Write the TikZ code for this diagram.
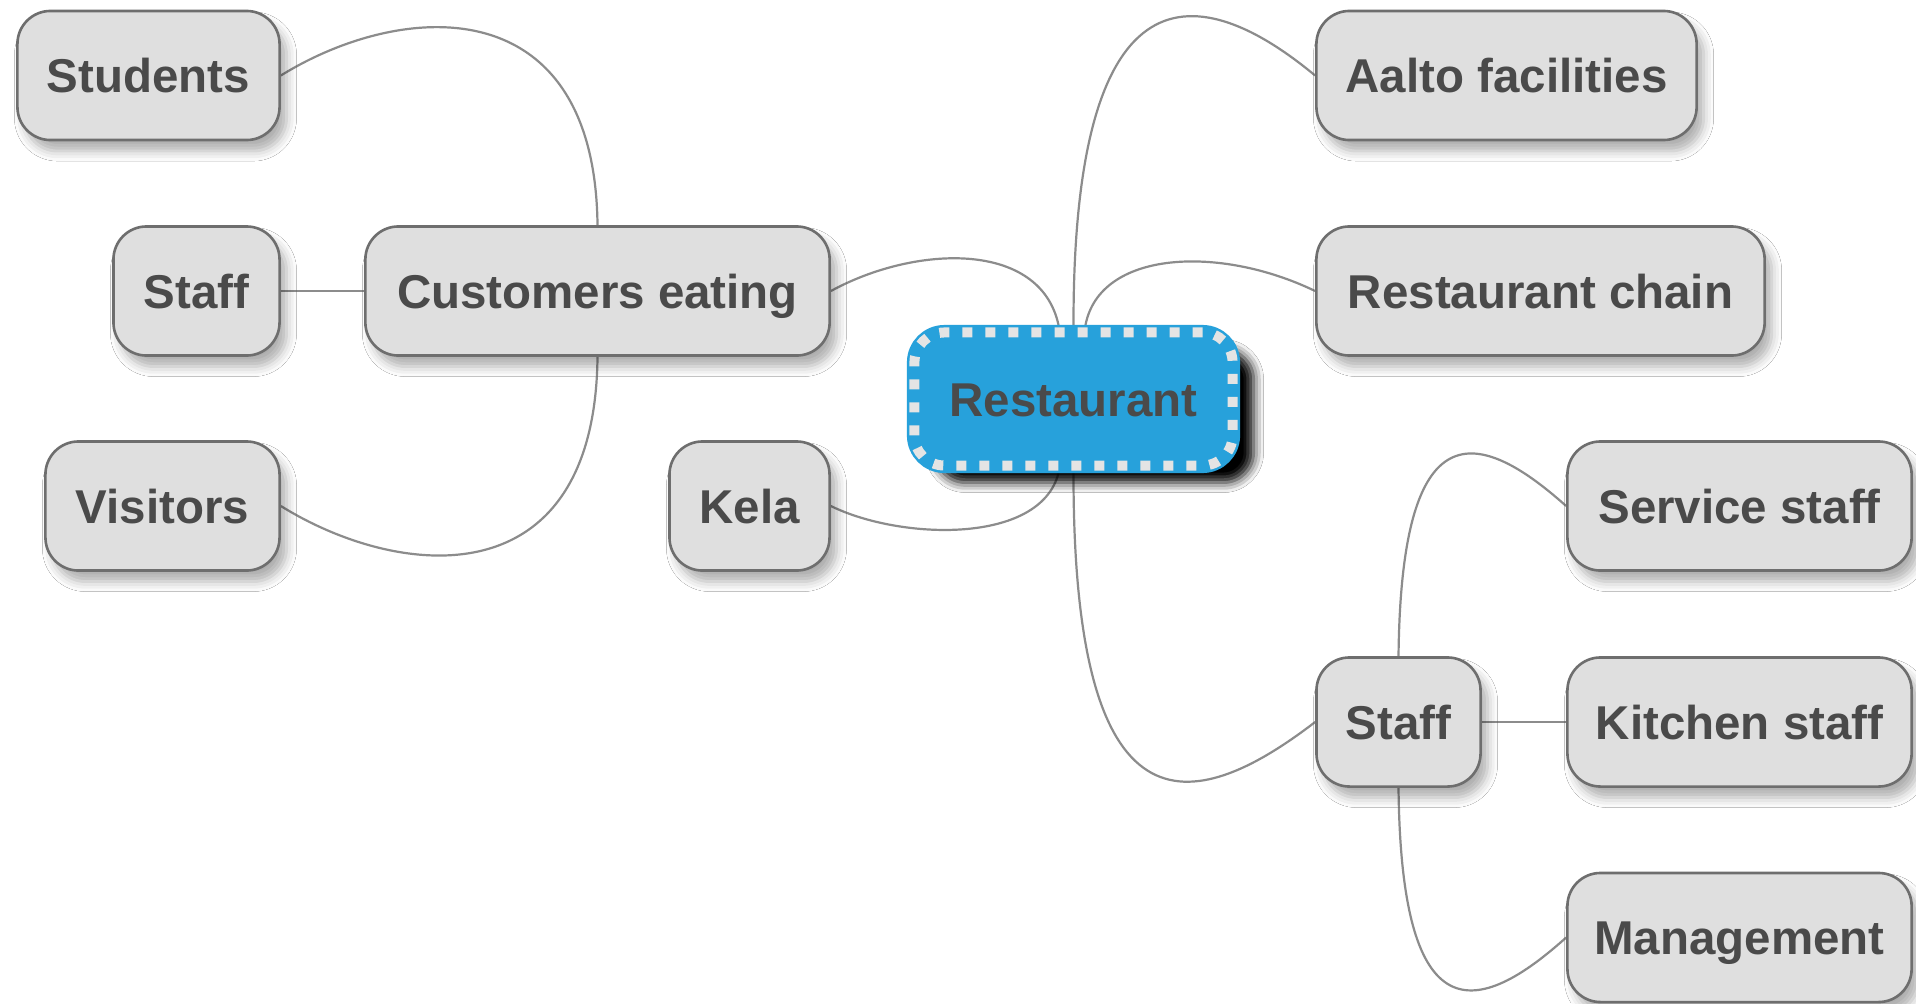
\documentclass[tikz,border=0pt]{standalone}
\usepackage{fontspec}
\setmainfont{Liberation Sans}
\usetikzlibrary{shadows.blur,backgrounds,calc}

\definecolor{nodefill}{HTML}{DFDFDF}
\definecolor{nodeline}{HTML}{6E6E6E}
\definecolor{edgecol}{HTML}{8C8C8C}
\definecolor{txt}{HTML}{4A4A4A}
\definecolor{rootblue}{HTML}{27A1DB}
\definecolor{rootdash}{HTML}{E4E4E4}

\begin{document}
\begin{tikzpicture}[x=0.01cm,y=-0.01cm,
  labelfont/.style={text=txt, font=\fontsize{13.5}{16}\selectfont\bfseries,
    text height=0.345cm, text depth=0cm},
  topic/.style={labelfont, draw=nodeline, line width=0.026cm, fill=nodefill,
    rounded corners=0.33cm, minimum height=1.29cm, inner sep=0pt,
    blur shadow={shadow xshift=0.07cm, shadow yshift=-0.11cm,
      shadow blur radius=0.1cm, shadow opacity=32}},
  central/.style={labelfont, draw=rootblue, line width=0.15cm, fill=rootblue,
    rounded corners=0.3cm, minimum width=3.18cm, minimum height=1.33cm, inner sep=0pt,
    blur shadow={shadow xshift=0.21cm, shadow yshift=-0.17cm,
      shadow blur radius=0.1cm, shadow opacity=100},
    postaction={draw=rootdash, line width=0.1cm, dash pattern=on 0.1cm off 0.13cm}},
  link/.style={draw=edgecol, line width=0.022cm},
]
\useasboundingbox (0,0) rectangle (1916,1003);

% central topic
\node[central] (rest) at (1073.5,399) {Restaurant};

% left branch
\node[topic, minimum width=4.64cm] (cust)   at (597.5,291) {Customers eating};
\node[topic, minimum width=2.62cm] (stud)   at (148.5,75.5) {Students};
\node[topic, minimum width=1.66cm] (staffL) at (196.5,291) {Staff};
\node[topic, minimum width=2.34cm] (visit)  at (162.5,506) {Visitors};
\node[topic, minimum width=1.60cm] (kela)   at (749.5,506) {Kela};

% right branch
\node[topic, minimum width=3.80cm] (aalto)  at (1506.5,75.5) {Aalto facilities};
\node[topic, minimum width=4.48cm] (chain)  at (1540.5,291) {Restaurant chain};
\node[topic, minimum width=1.64cm] (staffR) at (1398.5,722) {Staff};
\node[topic, minimum width=3.44cm] (serv)   at (1739.5,506) {Service staff};
\node[topic, minimum width=3.44cm] (kitch)  at (1739.5,722) {Kitchen staff};
\node[topic, minimum width=3.44cm] (mgmt)   at (1739.5,937.5) {Management};

% connectors, behind the topics
\begin{scope}[on background layer]
  \fill[white] (0,0) rectangle (1916,1003);
  \draw[link] (cust.north) .. controls (595,-12) and (403,0) .. (stud.east);
  \draw[link] (cust.south) .. controls (595,600) and (400,580) .. (visit.east);
  \draw[link] (staffL.east) -- (cust.west);
  \draw[link] (cust.east) .. controls (915,245) and (1040,240) .. ($(rest.north)+(-15,0)$);
  \draw[link] (kela.east) .. controls (900,540) and (1040,545) .. ($(rest.south)+(-15,0)$);
  \draw[link] (rest.north) .. controls (1073,-40) and (1200,-20) .. (aalto.west);
  \draw[link] ($(rest.north)+(12,0)$) .. controls (1100,250) and (1220,245) .. (chain.west);
  \draw[link] (rest.south) .. controls (1073,838) and (1190,818) .. (staffR.west);
  \draw[link] (staffR.north) .. controls (1401,420) and (1470,420) .. (serv.west);
  \draw[link] (staffR.east) -- (kitch.west);
  \draw[link] (staffR.south) .. controls (1401,1024) and (1470,1024) .. (mgmt.west);
\end{scope}
\end{tikzpicture}
\end{document}
